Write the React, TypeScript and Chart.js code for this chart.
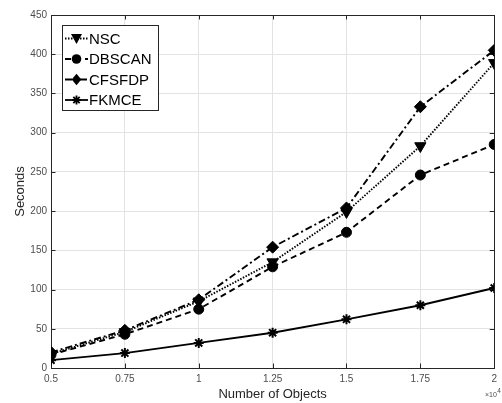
import React, { useEffect, useRef } from "react";
import { Chart, registerables } from "chart.js";

Chart.register(...registerables);

const xValues = [0.5, 0.75, 1, 1.25, 1.5, 1.75, 2];
const nscValues = [18, 46, 85, 135, 199, 283, 389];
const dbscanValues = [17, 43, 75, 129, 173, 246, 285];
const cfsfdpValues = [20, 48, 87, 154, 204, 333, 405];
const fkmceValues = [10, 19, 32, 45, 62, 80, 102];
const yTicks = [0, 50, 100, 150, 200, 250, 300, 350, 400, 450];
const seriesNames = ["NSC", "DBSCAN", "CFSFDP", "FKMCE"];

const FONT = "'Liberation Sans', Arial, Helvetica, sans-serif";
const AXIS = "#262626";

type Marker = "tri" | "circle" | "diamond" | "star";
const styles: { dash: number[]; marker: Marker }[] = [
  { dash: [1.5, 1.5], marker: "tri" },
  { dash: [6, 4], marker: "circle" },
  { dash: [7, 3, 2, 3], marker: "diamond" },
  { dash: [], marker: "star" },
];

function drawMarker(ctx: CanvasRenderingContext2D, m: Marker, x: number, y: number) {
  ctx.save();
  ctx.setLineDash([]);
  ctx.fillStyle = "#000";
  ctx.strokeStyle = "#000";
  ctx.lineWidth = 1.8;
  ctx.beginPath();
  if (m === "tri") {
    ctx.moveTo(x - 5.5, y - 4.5);
    ctx.lineTo(x + 5.5, y - 4.5);
    ctx.lineTo(x, y + 5.5);
    ctx.closePath();
    ctx.fill();
  } else if (m === "circle") {
    ctx.arc(x, y, 4.8, 0, Math.PI * 2);
    ctx.fill();
  } else if (m === "diamond") {
    ctx.moveTo(x, y - 5.8);
    ctx.lineTo(x + 4.8, y);
    ctx.lineTo(x, y + 5.8);
    ctx.lineTo(x - 4.8, y);
    ctx.closePath();
    ctx.fill();
  } else {
    for (let i = 0; i < 4; i++) {
      const a = (i * Math.PI) / 4;
      ctx.moveTo(x - 4.5 * Math.cos(a), y - 4.5 * Math.sin(a));
      ctx.lineTo(x + 4.5 * Math.cos(a), y + 4.5 * Math.sin(a));
    }
    ctx.stroke();
  }
  ctx.restore();
}

const boxPlugin = {
  id: "boxPlugin",
  beforeDatasetsDraw(chart: any) {
    const { ctx, chartArea: a, scales } = chart;
    ctx.save();
    ctx.strokeStyle = AXIS;
    ctx.lineWidth = 1;
    ctx.setLineDash([]);
    ctx.strokeRect(Math.round(a.left) + 0.5, Math.round(a.top) + 0.5, Math.round(a.right - a.left), Math.round(a.bottom - a.top));
    const t = 4.5;
    ctx.beginPath();
    xValues.forEach((v) => {
      const px = Math.round(scales.x.getPixelForValue(v)) + 0.5;
      ctx.moveTo(px, a.bottom);
      ctx.lineTo(px, a.bottom - t);
      ctx.moveTo(px, a.top);
      ctx.lineTo(px, a.top + t);
    });
    yTicks.forEach((v) => {
      const py = Math.round(scales.y.getPixelForValue(v)) + 0.5;
      ctx.moveTo(a.left, py);
      ctx.lineTo(a.left + t, py);
      ctx.moveTo(a.right, py);
      ctx.lineTo(a.right - t, py);
    });
    ctx.stroke();
    ctx.restore();
  },
  afterDraw(chart: any) {
    const { ctx, chartArea: a } = chart;
    ctx.save();
    // exponent label
    ctx.fillStyle = "#4d4d4d";
    ctx.font = `7px ${FONT}`;
    ctx.textBaseline = "alphabetic";
    ctx.textAlign = "left";
    const ex = 485;
    ctx.fillText("\u00d710", ex, 397);
    const wx = ctx.measureText("\u00d710").width;
    ctx.font = `6.5px ${FONT}`;
    ctx.fillText("4", ex + wx + 0.5, 393);
    // legend
    const lx = a.left + 11;
    const ly = a.top + 10;
    const w = 96;
    const h = 85;
    ctx.fillStyle = "#fff";
    ctx.fillRect(lx, ly, w, h);
    ctx.strokeStyle = AXIS;
    ctx.lineWidth = 1;
    ctx.strokeRect(Math.round(lx) + 0.5, Math.round(ly) + 0.5, w, h);
    seriesNames.forEach((name, i) => {
      const ry = ly + 13.5 + i * 20.5;
      const st = styles[i];
      ctx.save();
      ctx.strokeStyle = "#000";
      ctx.lineWidth = 1.8;
      ctx.setLineDash(st.dash);
      ctx.beginPath();
      ctx.moveTo(lx + 3, ry);
      ctx.lineTo(lx + 26, ry);
      ctx.stroke();
      ctx.restore();
      drawMarker(ctx, st.marker, lx + 14.5, ry);
      ctx.fillStyle = "#000";
      ctx.font = `15px ${FONT}`;
      ctx.textBaseline = "middle";
      ctx.textAlign = "left";
      ctx.fillText(name, lx + 27, ry + 1);
    });
    ctx.restore();
  },
};

export default function App() {
  const ref = useRef<HTMLCanvasElement>(null);
  useEffect(() => {
    if (!ref.current) return;
    const mk = (vals: number[], i: number) => {
      const st = styles[i];
      const pointStyle =
        st.marker === "tri" ? "triangle" : st.marker === "circle" ? "circle" : st.marker === "diamond" ? "rectRot" : "star";
      const radius = st.marker === "tri" ? 6.5 : st.marker === "circle" ? 5 : st.marker === "diamond" ? 6 : 5;
      return {
        label: seriesNames[i],
        data: xValues.map((x, k) => ({ x, y: vals[k] })),
        borderColor: "#000",
        backgroundColor: "#000",
        borderWidth: 1.9,
        borderDash: st.dash,
        pointStyle,
        pointRotation: st.marker === "tri" ? 180 : 0,
        pointRadius: radius,
        pointBorderWidth: st.marker === "star" ? 2 : 1,
        pointBackgroundColor: "#000",
        pointBorderColor: "#000",
        tension: 0,
        fill: false,
      };
    };
    const chart = new Chart(ref.current, {
      type: "line",
      data: {
        datasets: [
          mk(nscValues, 0),
          mk(dbscanValues, 1),
          mk(cfsfdpValues, 2),
          mk(fkmceValues, 3),
        ],
      },
      options: {
        animation: false,
        responsive: false,
        maintainAspectRatio: false,
        layout: { padding: { left: 9, right: 4, top: 15, bottom: 0 } },
        plugins: { legend: { display: false }, tooltip: { enabled: false } },
        scales: {
          x: {
            type: "linear",
            min: 0.5,
            max: 2,
            afterBuildTicks: (s: any) => {
              s.ticks = xValues.map((v) => ({ value: v }));
            },
            afterFit: (s: any) => {
              s.height = 35;
            },
            ticks: {
              autoSkip: false,
              maxRotation: 0,
              padding: 5,
              color: "#4d4d4d",
              font: { family: FONT, size: 10 },
              callback: (v: any) => String(v),
            },
            grid: { color: "#e3e3e3", drawTicks: false, lineWidth: 1 },
            border: { display: false },
            title: {
              display: true,
              text: "Number of Objects",
              color: AXIS,
              font: { family: FONT, size: 13 },
              padding: { top: 0, bottom: 1 },
            },
          },
          y: {
            type: "linear",
            min: 0,
            max: 450,
            afterBuildTicks: (s: any) => {
              s.ticks = yTicks.map((v) => ({ value: v }));
            },
            afterFit: (s: any) => {
              s.width = 42;
            },
            ticks: {
              padding: 4,
              color: "#4d4d4d",
              font: { family: FONT, size: 10 },
            },
            grid: { color: "#e3e3e3", drawTicks: false, lineWidth: 1 },
            border: { display: false },
            title: {
              display: true,
              text: "Seconds",
              color: AXIS,
              font: { family: FONT, size: 13 },
              padding: { top: 4, bottom: 4 },
            },
          },
        },
      },
      plugins: [boxPlugin],
    } as any);
    return () => chart.destroy();
  }, []);
  return (
    <div style={{ position: "absolute", left: 0, top: 0, width: 502, height: 403, background: "#fff" }}>
      <canvas ref={ref} width={502} height={403} style={{ display: "block" }} />
    </div>
  );
}
